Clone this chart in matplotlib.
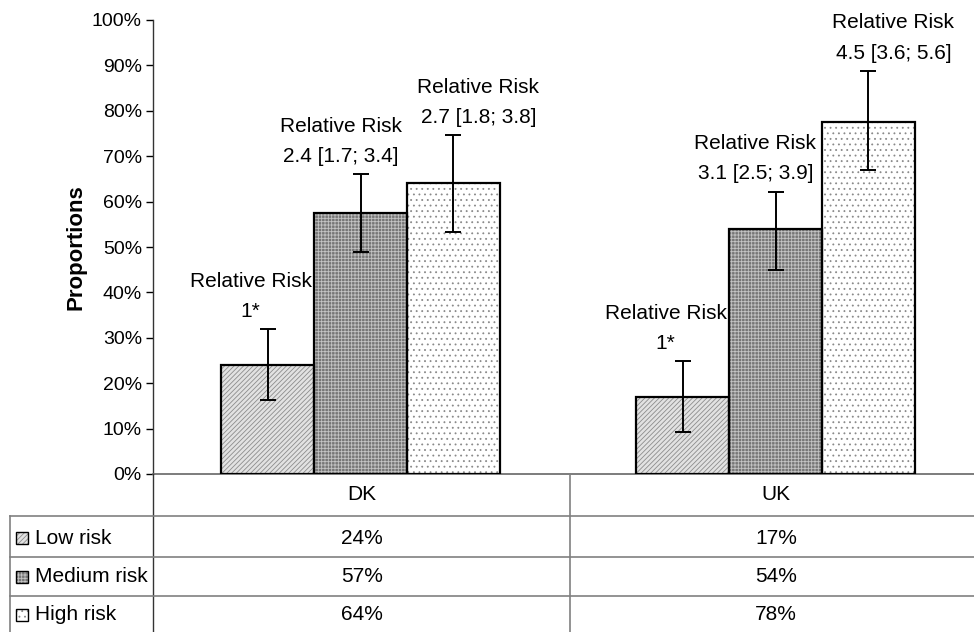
import matplotlib.pyplot as plt
from matplotlib.patches import Rectangle
import numpy as np

plt.rcParams['font.family'] = ['Liberation Sans', 'DejaVu Sans']
plt.rcParams['hatch.linewidth'] = 0.6

# data
countries = ['DK', 'UK']
risk_groups = ['Low risk', 'Medium risk', 'High risk']
proportions = {
    'Low risk': [24, 17],
    'Medium risk': [57.5, 54],
    'High risk': [64, 77.5],
}
err_low = {
    'Low risk': [16.2, 9.3],
    'Medium risk': [49, 45],
    'High risk': [53.3, 67],
}
err_high = {
    'Low risk': [31.9, 24.8],
    'Medium risk': [66, 62.2],
    'High risk': [74.6, 88.8],
}
rr_labels = {
    'Low risk': ['1*', '1*'],
    'Medium risk': ['2.4 [1.7; 3.4]', '3.1 [2.5; 3.9]'],
    'High risk': ['2.7 [1.8; 3.8]', '4.5 [3.6; 5.6]'],
}
table_values = {
    'Low risk': ['24%', '17%'],
    'Medium risk': ['57%', '54%'],
    'High risk': ['64%', '78%'],
}

styles = {
    'Low risk': dict(fc='#e2e2e2', hc='#8c8c8c', hatch='///////'),
    'Medium risk': dict(fc='#767676', hc='#c4c4c4', hatch='+++++'),
    'High risk': dict(fc='white', hc='#8a8a8a', hatch='...'),
}
# horizontal shift of the relative-risk labels (in pixels)
text_dx = {'Low risk': -17, 'Medium risk': -20, 'High risk': 25}

fig = plt.figure(figsize=(9.74, 6.32), dpi=100)
ax = fig.add_axes([153 / 974, 158 / 632, (983 - 153) / 974, 454 / 632])

x = np.arange(len(countries))
width = 0.224
for i, grp in enumerate(risk_groups):
    st = styles[grp]
    pos = x + (i - 1) * width
    vals = np.array(proportions[grp])
    ax.bar(pos, vals, width, color=st['fc'], hatch=st['hatch'],
           edgecolor=st['hc'], linewidth=0, zorder=2)
    ax.bar(pos, vals, width, fill=False, edgecolor='black', linewidth=1.6, zorder=3)
    lo = vals - np.array(err_low[grp])
    hi = np.array(err_high[grp]) - vals
    ax.errorbar(pos, vals, yerr=[lo, hi], fmt='none', ecolor='black',
                elinewidth=1.4, capsize=6, capthick=1.4, zorder=4)
    for j, p in enumerate(pos):
        ax.annotate('Relative Risk\n' + rr_labels[grp][j],
                    xy=(p, err_high[grp][j]), xytext=(text_dx[grp] * 0.72, 6),
                    textcoords='offset points', ha='center', va='bottom',
                    fontsize=15, linespacing=1.75, zorder=5)

ax.set_xlim(-0.5, 1.5)
ax.set_ylim(0, 100)
ax.set_yticks(np.arange(0, 101, 10))
ax.set_yticklabels([f'{v}%' for v in range(0, 101, 10)], fontsize=14)
ax.tick_params(axis='y', direction='out', length=5, width=1, pad=3)
ax.set_xticks([])
ax.set_ylabel('Proportions', fontsize=16, fontweight='bold', labelpad=4)
for s in ['top', 'right']:
    ax.spines[s].set_visible(False)
ax.spines['left'].set_linewidth(1)
ax.spines['left'].set_color('#333333')
ax.spines['bottom'].set_linewidth(1.2)
ax.spines['bottom'].set_color('#666666')

# data table below the chart, drawn in pixel coordinates
tab = fig.add_axes([0, 0, 1, 158 / 632])
tab.set_xlim(0, 974)
tab.set_ylim(632, 474)
tab.axis('off')
lc = '#808080'
tab.plot([153, 153], [474, 632], color='#333333', lw=1)
tab.plot([570, 570], [474, 632], color=lc, lw=1.2)
tab.plot([10, 10], [516, 632], color=lc, lw=1.2)
for yy in [516, 557, 596]:
    tab.plot([10, 974], [yy, yy], color=lc, lw=1.2)

col_x = [362, 776]
for j, c in enumerate(countries):
    tab.text(col_x[j], 494, c, ha='center', va='center', fontsize=15)
row_y = [538, 577, 615]
for i, grp in enumerate(risk_groups):
    st = styles[grp]
    tab.add_patch(Rectangle((16, row_y[i] - 6), 12, 12, facecolor=st['fc'],
                            hatch=st['hatch'], edgecolor=st['hc'], lw=0))
    tab.add_patch(Rectangle((16, row_y[i] - 6), 12, 12, fill=False,
                            edgecolor='black', lw=1))
    tab.text(35, row_y[i], grp, ha='left', va='center', fontsize=15)
    for j in range(len(countries)):
        tab.text(col_x[j], row_y[i], table_values[grp][j], ha='center',
                 va='center', fontsize=15)

fig.savefig('out.png', dpi=100)
